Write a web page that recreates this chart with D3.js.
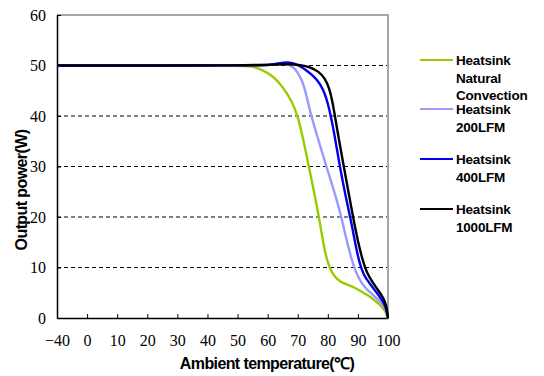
<!DOCTYPE html>
<html>
<head>
<meta charset="utf-8">
<script src="https://cdn.jsdelivr.net/npm/d3@7"></script>
<style>
  body { margin: 0; background: #fff; }
  svg { display: block; }
</style>
</head>
<body>
<script>
const width = 544;
const height = 376;

// x axis is a category axis: -40 sits one step left of 0
const xTickLabels = ["\u221240", "0", "10", "20", "30", "40", "50", "60", "70", "80", "90", "100"];
const yTicks = [0, 10, 20, 30, 40, 50, 60];
const gridValues = [10, 20, 30, 40, 50];

const seriesNames = ["Heatsink\nNatural\nConvection", "Heatsink\n200LFM", "Heatsink\n400LFM", "Heatsink\n1000LFM"];
const seriesColors = ["#99cc00", "#9999ff", "#0000ee", "#000000"];

const naturalTemp = [-40, 0, 50, 54, 58, 62, 65, 68, 70, 71.5, 73, 74.5, 76, 77.5, 79, 80.5, 82, 84, 86.5, 89, 91, 93, 95, 97, 99, 100];
const naturalPower = [50, 50, 50, 49.9, 49.3, 47.8, 45.8, 43, 40, 36.3, 32, 27.7, 23.3, 18.5, 13, 10, 8.3, 7.2, 6.6, 6, 5.3, 4.6, 3.8, 2.8, 1.6, 0];

const lfm200Temp = [-40, 0, 55, 60, 63, 66, 68.5, 70, 71.5, 72.5, 73.5, 74.5, 76, 77.5, 79.5, 81.5, 83, 84.5, 86, 87.5, 89, 91, 93, 95, 97.5, 99.3, 100];
const lfm200Power = [50, 50, 50, 50.1, 50.3, 50.4, 49.8, 48.6, 47, 45, 42.5, 40, 37, 34, 30, 26.3, 23.3, 20, 16, 12.5, 9.5, 7, 5.6, 4.6, 3.2, 2, 0];

const lfm400Temp = [-40, 0, 56, 61, 64, 67.5, 70.5, 73, 75.5, 77.5, 79, 80, 81, 82, 83, 84, 86, 88, 90, 92, 94, 96, 98, 99.3, 100];
const lfm400Power = [50, 50, 50, 50.1, 50.5, 50.7, 50, 49, 47.8, 46.3, 44.5, 42.5, 40, 37, 33.5, 30, 23.8, 18.5, 11.8, 8.3, 6.8, 5.2, 3.6, 2.2, 0];

const lfm1000Temp = [-40, 0, 55, 62, 67, 71, 74, 77, 79, 80.5, 81.5, 82.5, 83.5, 85, 87, 89, 91, 93, 95, 96.6, 98.5, 99.5, 100];
const lfm1000Power = [50, 50, 50, 50.2, 50.3, 50.1, 49.7, 48.8, 47.5, 45.5, 43, 39.5, 36, 31, 24.5, 18, 12.5, 8.8, 7, 5.6, 4, 2.5, 0];

const seriesTemps = [naturalTemp, lfm200Temp, lfm400Temp, lfm1000Temp];
const seriesPowers = [naturalPower, lfm200Power, lfm400Power, lfm1000Power];

const margin = { top: 15, right: 156, bottom: 58, left: 57 };
const plotRight = width - margin.right;
const plotBottom = height - margin.bottom;

const svg = d3
  .select("body")
  .append("svg")
  .attr("width", width)
  .attr("height", height);

const xCat = d3.scalePoint().domain(xTickLabels).range([margin.left, plotRight]);
const x = d3
  .scaleLinear()
  .domain([-40, 0, 100])
  .range([xCat("\u221240"), xCat("0"), xCat("100")]);
const y = d3.scaleLinear().domain([0, 60]).range([plotBottom, margin.top]);

// dashed grid
svg
  .append("g")
  .selectAll("line")
  .data(gridValues)
  .join("line")
  .attr("x1", margin.left)
  .attr("x2", plotRight)
  .attr("y1", (d) => y(d))
  .attr("y2", (d) => y(d))
  .attr("stroke", "#000")
  .attr("stroke-width", 1)
  .attr("stroke-dasharray", "4,3");

// frame: gray top/right
svg
  .append("path")
  .attr("d", `M${margin.left},${margin.top}H${plotRight}V${plotBottom}`)
  .attr("fill", "none")
  .attr("stroke", "#a6a6a6")
  .attr("stroke-width", 2);

const xAxis = svg
  .append("g")
  .attr("transform", `translate(0,${plotBottom})`)
  .call(d3.axisBottom(xCat).tickSizeInner(-4).tickSizeOuter(0).tickPadding(17));

const yAxis = svg
  .append("g")
  .attr("transform", `translate(${margin.left},0)`)
  .call(d3.axisLeft(y).tickValues(yTicks).tickSizeInner(-4).tickSizeOuter(0).tickPadding(11));

[xAxis, yAxis].forEach((ax) => {
  ax.select(".domain").attr("stroke", "#000").attr("stroke-width", 1.5);
  ax.selectAll(".tick line").attr("stroke", "#000");
  ax.selectAll(".tick text")
    .attr("fill", "#000")
    .style("font-family", "'Liberation Serif', 'DejaVu Serif', serif")
    .style("font-size", "16px");
});

// curves
const line = d3
  .line()
  .x((d) => x(d[0]))
  .y((d) => y(d[1]))
  .curve(d3.curveBasis);

seriesTemps.forEach((temps, i) => {
  const pts = temps.map((t, j) => [t, seriesPowers[i][j]]);
  svg
    .append("path")
    .datum(pts)
    .attr("d", line)
    .attr("fill", "none")
    .attr("stroke", seriesColors[i])
    .attr("stroke-width", 2.4)
    .attr("stroke-linejoin", "round");
});

// axis titles
svg
  .append("text")
  .attr("x", 267)
  .attr("y", 369)
  .attr("text-anchor", "middle")
  .style("font-family", "'Liberation Sans', Arial, sans-serif")
  .style("font-size", "16px")
  .style("font-weight", "bold")
  .style("letter-spacing", "-0.6px")
  .text("Ambient temperature(\u2103)");

svg
  .append("text")
  .attr("transform", "translate(27,190) rotate(-90)")
  .attr("text-anchor", "middle")
  .style("font-family", "'Liberation Sans', Arial, sans-serif")
  .style("font-size", "16px")
  .style("font-weight", "bold")
  .style("letter-spacing", "-0.6px")
  .text("Output power(W)");

// legend
const legendY = [60, 109, 159, 209];
const legend = svg
  .append("g")
  .selectAll("g")
  .data(seriesNames)
  .join("g")
  .attr("transform", (d, i) => `translate(420,${legendY[i]})`);

legend
  .append("line")
  .attr("x1", 0)
  .attr("x2", 33)
  .attr("stroke", (d, i) => seriesColors[i])
  .attr("stroke-width", 2);

legend
  .append("text")
  .style("font-family", "'Liberation Sans', Arial, sans-serif")
  .style("font-size", "13.5px")
  .style("font-weight", "bold")
  .style("letter-spacing", "-0.2px")
  .selectAll("tspan")
  .data((d) => d.split("\n"))
  .join("tspan")
  .attr("x", 36)
  .attr("y", (d, j) => 5 + j * 17.5)
  .text((d) => d);
</script>
</body>
</html>
